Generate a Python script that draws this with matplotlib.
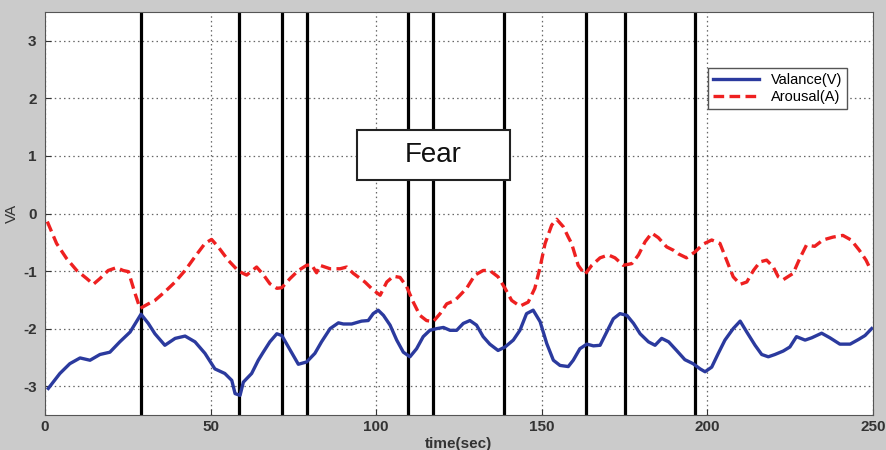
import matplotlib
matplotlib.use("Agg")
import matplotlib.pyplot as plt
from matplotlib.patches import Rectangle

plt.rcParams["font.family"] = ["Liberation Sans", "DejaVu Sans"]
plt.rcParams["axes.unicode_minus"] = False

# valence (blue, solid)
val_t = [1.0, 4.5, 7.5, 10.6, 13.6, 16.6, 19.6, 22.6, 25.7, 29.0, 31.2,
         33.2, 36.2, 39.3, 42.3, 45.3, 48.3, 51.3, 54.3, 56.4, 57.4, 58.9,
         59.9, 62.4, 64.4, 65.9, 67.9, 70.0, 71.5, 73.5, 76.5, 79.0, 81.5,
         83.5, 86.1, 88.6, 90.1, 92.6, 95.6, 97.6, 99.1, 100.6, 102.2,
         104.2, 106.2, 108.2, 110.2, 112.2, 114.2, 116.2, 118.3, 120.3,
         122.3, 124.3, 126.3, 128.3, 130.3, 132.3, 134.3, 136.8, 138.9,
         141.4, 143.4, 145.4, 147.4, 149.5, 151.5, 153.5, 155.5, 158.0,
         159.5, 161.5, 163.6, 165.6, 167.6, 169.6, 171.6, 173.6, 175.7,
         177.7, 179.7, 182.2, 184.2, 186.2, 188.3, 190.7, 193.2, 195.7,
         197.8, 199.3, 201.3, 203.3, 205.3, 207.8, 209.9, 211.9, 214.4,
         216.4, 218.4, 220.4, 222.9, 224.9, 226.9, 229.5, 231.5, 234.5,
         237.0, 240.0, 243.1, 245.6, 247.6, 249.6]
val_v = [-3.04, -2.78, -2.61, -2.51, -2.55, -2.45, -2.41, -2.23, -2.06,
         -1.75, -1.91, -2.09, -2.29, -2.17, -2.13, -2.23, -2.43, -2.70,
         -2.78, -2.90, -3.13, -3.16, -2.93, -2.78, -2.55, -2.41, -2.23,
         -2.09, -2.12, -2.32, -2.62, -2.58, -2.43, -2.23, -2.00, -1.90,
         -1.92, -1.92, -1.87, -1.86, -1.74, -1.68, -1.77, -1.94, -2.20,
         -2.41, -2.49, -2.35, -2.14, -2.03, -2.00, -1.98, -2.03, -2.03,
         -1.91, -1.86, -1.94, -2.14, -2.27, -2.38, -2.32, -2.20, -2.03,
         -1.74, -1.68, -1.88, -2.26, -2.55, -2.64, -2.66, -2.55, -2.35,
         -2.27, -2.30, -2.29, -2.06, -1.83, -1.74, -1.77, -1.91, -2.09,
         -2.23, -2.29, -2.17, -2.23, -2.38, -2.54, -2.61, -2.70, -2.75,
         -2.67, -2.43, -2.20, -2.00, -1.87, -2.06, -2.29, -2.45, -2.49,
         -2.45, -2.39, -2.32, -2.14, -2.20, -2.16, -2.08, -2.16, -2.27,
         -2.27, -2.19, -2.12, -2.00]

# arousal (red, dashed)
aro_t = [0.7, 3.5, 6.5, 9.6, 12.6, 14.6, 16.6, 19.1, 21.6, 23.6, 25.2,
         27.2, 28.7, 31.2, 33.2, 36.2, 39.3, 42.3, 45.3, 48.3, 50.3, 52.3,
         55.3, 58.4, 60.9, 63.9, 65.9, 67.9, 70.0, 71.5, 74.0, 76.5, 79.0,
         80.5, 82.0, 83.0, 86.1, 89.1, 91.1, 93.1, 96.6, 99.1, 101.2,
         103.2, 105.2, 107.2, 109.2, 111.2, 113.2, 115.2, 117.2, 119.3,
         121.3, 123.8, 126.3, 127.3, 129.8, 132.3, 134.3, 136.8, 138.9,
         140.9, 143.4, 145.9, 147.9, 149.5, 151.0, 153.0, 154.5, 156.5,
         158.0, 159.0, 161.0, 163.0, 165.1, 167.6, 170.1, 172.1, 174.6,
         177.2, 179.2, 181.2, 183.2, 185.2, 187.7, 189.8, 191.2, 193.7,
         196.2, 198.8, 201.3, 203.8, 205.8, 207.8, 209.9, 211.9, 213.9,
         215.9, 217.9, 219.9, 221.4, 222.9, 225.9, 227.9, 229.9, 232.4,
         234.9, 237.9, 240.9, 243.4, 245.9, 247.9, 249.4]
aro_v = [-0.14, -0.52, -0.78, -0.99, -1.13, -1.23, -1.13, -0.99, -0.94,
         -0.99, -1.01, -1.39, -1.65, -1.57, -1.51, -1.36, -1.19, -0.99,
         -0.75, -0.52, -0.45, -0.58, -0.81, -1.00, -1.07, -0.93, -1.06,
         -1.22, -1.30, -1.29, -1.13, -0.99, -0.90, -0.89, -1.03, -0.90,
         -0.96, -0.96, -0.93, -1.04, -1.19, -1.33, -1.42, -1.19, -1.09,
         -1.11, -1.27, -1.54, -1.77, -1.86, -1.88, -1.74, -1.57, -1.51,
         -1.36, -1.30, -1.07, -0.99, -0.99, -1.10, -1.30, -1.51, -1.61,
         -1.54, -1.30, -0.93, -0.52, -0.20, -0.10, -0.23, -0.41, -0.52,
         -0.90, -1.06, -0.90, -0.77, -0.72, -0.77, -0.90, -0.87, -0.72,
         -0.49, -0.34, -0.42, -0.58, -0.64, -0.70, -0.77, -0.67, -0.53,
         -0.46, -0.52, -0.81, -1.10, -1.23, -1.19, -0.99, -0.84, -0.81,
         -0.93, -1.10, -1.15, -1.04, -0.78, -0.55, -0.57, -0.46, -0.41,
         -0.38, -0.46, -0.64, -0.81, -0.99]

# segment boundaries (sec)
markers = [29.0, 58.7, 71.5, 79.2, 109.7, 117.2, 138.6, 163.4, 175.1, 196.3]

xticks = [0, 50, 100, 150, 200, 250]
yticks = [-3, -2, -1, 0, 1, 2, 3]

fig = plt.figure(figsize=(8.87, 4.5), dpi=100, facecolor="#cbcbcb")
ax = fig.add_axes([0.0507, 0.078, 0.9335, 0.895])

ax.grid(True, linestyle=(0, (1.2, 2.5)), color="#666666", linewidth=0.9)
ax.set_axisbelow(True)

for m in markers:
    ax.axvline(m, color="black", linewidth=2.3, zorder=2)

ax.plot(val_t, val_v, color="#2b3a9e", linewidth=2.4, label="Valance(V)",
        zorder=3)
ax.plot(aro_t, aro_v, color="#ee2020", linewidth=2.4, linestyle=(0, (3.2, 1.6)),
        label="Arousal(A)", zorder=3)

# "Fear" label box
ax.add_patch(Rectangle((94.1, 0.585), 46.4, 0.865, facecolor="white",
                       edgecolor="#222222", linewidth=1.5, zorder=4))
ax.text(117.3, 1.02, "Fear", fontsize=20, ha="center", va="center",
        color="#111111", zorder=5)

ax.set_xlim(0, 250)
ax.set_ylim(-3.5, 3.5)
ax.set_xticks(xticks)
ax.set_yticks(yticks)
ax.tick_params(direction="in", length=4, labelsize=11, colors="#333333")
ax.tick_params(axis="y", pad=6)
for lab in ax.get_xticklabels() + ax.get_yticklabels():
    lab.set_fontweight("bold")
for s in ax.spines.values():
    s.set_color("#555555")

ax.set_xlabel("time(sec)", fontsize=11, fontweight="bold", color="#333333",
              labelpad=2)
ax.set_ylabel("VA", fontsize=11, color="#333333")
ax.yaxis.set_label_coords(-0.031, 0.5)

leg = ax.legend(loc="upper right", bbox_to_anchor=(0.978, 0.88),
                fontsize=10.5, fancybox=False, framealpha=1,
                edgecolor="#555555", handlelength=3.2, borderpad=0.35,
                labelspacing=0.2)
leg.get_frame().set_linewidth(1.0)

fig.savefig("out.png", dpi=100, facecolor=fig.get_facecolor())
